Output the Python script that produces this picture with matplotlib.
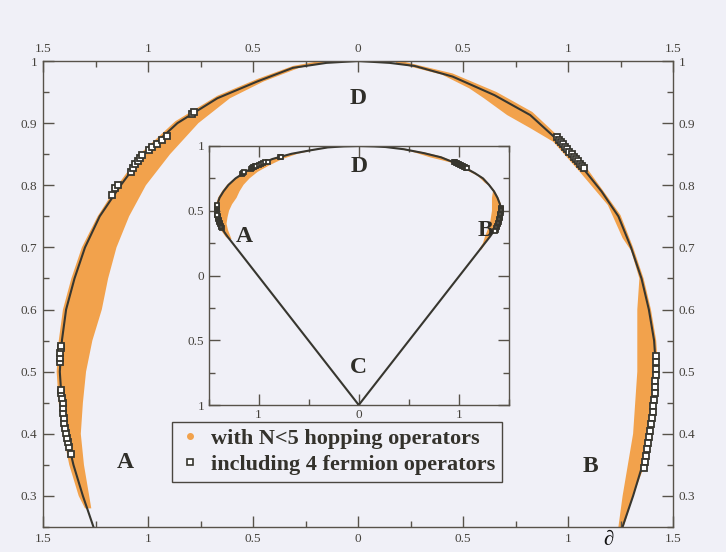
import numpy as np
import matplotlib.pyplot as plt
from matplotlib.lines import Line2D

# boundary curve, running from C up the left side, over D and back down to C
curve_x = [0.0, -1.31, -1.355, -1.39, -1.41, -1.42, -1.41, -1.39, -1.35, -1.30, -1.23,
           -1.13, -1.02, -0.86, -0.67, -0.48, -0.31, -0.15, 0.0,
           0.15, 0.27, 0.45, 0.65, 0.82, 0.94, 1.07, 1.16, 1.24, 1.30, 1.35, 1.385,
           1.41, 1.42, 1.41, 1.39, 1.355, 1.31, 0.0]
curve_y = [-1.0, 0.30, 0.35, 0.40, 0.45, 0.50, 0.55, 0.60, 0.65, 0.70, 0.75,
           0.80, 0.85, 0.90, 0.94, 0.967, 0.989, 0.997, 1.0,
           0.997, 0.992, 0.975, 0.945, 0.913, 0.876, 0.828, 0.79, 0.75, 0.70, 0.65, 0.60,
           0.55, 0.50, 0.45, 0.40, 0.35, 0.30, -1.0]

# region covered by the N<5 hopping-operator points (left and right lobes)
left_outer_x = [-0.15, -0.31, -0.48, -0.67, -0.87, -1.03, -1.145, -1.24, -1.315, -1.365,
                -1.405, -1.425, -1.435, -1.425, -1.405, -1.375, -1.33, -1.30]
left_outer_y = [1.002, 0.992, 0.971, 0.944, 0.903, 0.853, 0.80, 0.75, 0.70, 0.65,
                0.60, 0.55, 0.50, 0.45, 0.40, 0.35, 0.30, 0.28]
left_inner_x = [-1.27, -1.28, -1.305, -1.32, -1.31, -1.295, -1.265, -1.22, -1.19, -1.15,
                -1.09, -1.01, -0.895, -0.76, -0.61, -0.45, -0.28, -0.15]
left_inner_y = [0.28, 0.30, 0.35, 0.40, 0.45, 0.50, 0.55, 0.60, 0.65, 0.70,
                0.75, 0.80, 0.85, 0.90, 0.94, 0.967, 0.989, 0.998]

right_outer_x = [0.18, 0.45, 0.66, 0.83, 0.95, 1.08, 1.17, 1.25, 1.31, 1.36, 1.395,
                 1.42, 1.43, 1.42, 1.40, 1.365, 1.31, 1.265, 1.225]
right_outer_y = [1.002, 0.98, 0.95, 0.918, 0.88, 0.832, 0.79, 0.752, 0.70, 0.65, 0.60,
                 0.55, 0.50, 0.45, 0.40, 0.35, 0.30, 0.25, 0.20]
right_inner_x = [1.20, 1.24, 1.26, 1.285, 1.31, 1.32, 1.33, 1.33, 1.33, 1.34, 1.30, 1.26,
                 1.19, 1.06, 0.93, 0.82, 0.71, 0.60, 0.53, 0.40, 0.18]
right_inner_y = [0.20, 0.25, 0.30, 0.35, 0.40, 0.45, 0.50, 0.55, 0.60, 0.65, 0.695, 0.715,
                 0.768, 0.82, 0.87, 0.892, 0.913, 0.94, 0.956, 0.978, 0.997]

# points that include 4 fermion operators
ferm_x = [-1.365, -1.375, -1.38, -1.385, -1.39, -1.395, -1.398, -1.40, -1.403, -1.405,
          -1.407, -1.41, -1.412, -1.414,
          -1.42, -1.42, -1.418, -1.415, -1.413,
          -1.17, -1.155, -1.145, -1.08, -1.07, -1.06, -1.05, -1.04, -1.03,
          -0.995, -0.98, -0.956, -0.935, -0.91, -0.79, -0.78,
          0.947, 0.957, 0.967, 0.977, 0.987, 0.997, 1.007, 1.017, 1.027, 1.037,
          1.047, 1.057, 1.067, 1.077,
          1.42, 1.42, 1.418, 1.418, 1.416, 1.414, 1.412, 1.41, 1.407, 1.404,
          1.40, 1.396, 1.392, 1.388, 1.383, 1.378, 1.372, 1.366, 1.36]
ferm_y = [0.368, 0.378, 0.386, 0.394, 0.402, 0.41, 0.418, 0.426, 0.434, 0.442,
          0.45, 0.458, 0.466, 0.47,
          0.515, 0.522, 0.53, 0.538, 0.542,
          0.785, 0.795, 0.80, 0.822, 0.828, 0.834, 0.839, 0.844, 0.849,
          0.856, 0.862, 0.867, 0.873, 0.879, 0.914, 0.918,
          0.877, 0.873, 0.869, 0.866, 0.862, 0.858, 0.854, 0.850, 0.846, 0.843,
          0.839, 0.835, 0.831, 0.827,
          0.525, 0.515, 0.505, 0.495, 0.485, 0.475, 0.465, 0.455, 0.445, 0.435,
          0.425, 0.415, 0.405, 0.395, 0.385, 0.375, 0.365, 0.355, 0.345]

main_xticks = [-1.5, -1.0, -0.5, 0.0, 0.5, 1.0, 1.5]
main_xlabels = ['1.5', '1', '0.5', '0', '0.5', '1', '1.5']
main_yticks = [0.3, 0.4, 0.5, 0.6, 0.7, 0.8, 0.9, 1.0]
main_ylabels = ['0.3', '0.4', '0.5', '0.6', '0.7', '0.8', '0.9', '1']
inset_xticks = [-1.0, 0.0, 1.0]
inset_xlabels = ['1', '0', '1']
inset_yticks = [-1.0, -0.5, 0.0, 0.5, 1.0]
inset_ylabels = ['1', '0.5', '0', '0.5', '1']

bg = '#f0f0f7'
orange = '#f2a24c'
ink = '#37362f'
frame = '#57524a'
serif = ['Liberation Serif', 'DejaVu Serif']

fig = plt.figure(figsize=(7.26, 5.52), dpi=100, facecolor=bg)


def draw_data(ax, msize, mew):
    ax.fill(left_outer_x + left_inner_x, left_outer_y + left_inner_y,
            color=orange, lw=0, zorder=1)
    ax.fill(right_outer_x + right_inner_x, right_outer_y + right_inner_y,
            color=orange, lw=0, zorder=1)
    ax.plot(curve_x, curve_y, color=ink, lw=1.5, zorder=2)
    ax.plot(ferm_x, ferm_y, ls='none', marker='s', ms=msize, mfc='white',
            mec=ink, mew=mew, zorder=3)


def style_axes(ax):
    ax.set_facecolor(bg)
    for s in ax.spines.values():
        s.set_color(frame)
        s.set_linewidth(1.0)
    ax.tick_params(which='both', direction='in', top=True, right=True,
                   color=frame, width=1.0, labelcolor='#45423c')
    ax.tick_params(which='major', length=8)
    ax.tick_params(which='minor', length=4)
    for lab in ax.get_xticklabels() + ax.get_yticklabels():
        lab.set_family(serif)
        lab.set_fontsize(9.5)


# main panel
ax = fig.add_axes([43 / 726, 1 - 527 / 552, 630 / 726, 466 / 552])
draw_data(ax, 4.3, 1.3)
ax.set_xlim(-1.5, 1.5)
ax.set_ylim(0.25, 1.0)
ax.set_xticks(main_xticks)
ax.set_xticklabels(main_xlabels)
ax.set_yticks(main_yticks)
ax.set_yticklabels(main_ylabels)
ax.set_xticks(np.arange(-1.25, 1.5, 0.5), minor=True)
ax.set_yticks(np.arange(0.25, 1.0, 0.1), minor=True)
ax.tick_params(labeltop=True, labelright=True, pad=4)
style_axes(ax)

letter = dict(family=serif, fontweight='bold', fontsize=17, color='#2f2e29',
              ha='center', va='center')
ax.text(0.0, 0.94, 'D', **letter)
ax.text(-1.11, 0.354, 'A', **letter)
ax.text(1.105, 0.348, 'B', **letter)

handles = [Line2D([], [], ls='none', marker='o', ms=4, color=orange),
           Line2D([], [], ls='none', marker='s', ms=5, mfc='white', mec=ink, mew=1.2)]
leg = ax.legend(handles, ['with N<5 hopping operators', 'including 4 fermion operators'],
                loc='lower left', bbox_to_anchor=(0.205, 0.097), borderaxespad=0,
                fancybox=False, framealpha=1, facecolor=bg, edgecolor='#4a4640',
                handlelength=1.0, handletextpad=0.45, labelspacing=0.25, borderpad=0.3,
                prop=dict(family=serif, weight='bold', size=16))
leg.get_frame().set_linewidth(1.0)
for t in leg.get_texts():
    t.set_color('#34322c')

# inset: full view down to C
ins = fig.add_axes([208.5 / 726, 1 - 405 / 552, 300.5 / 726, 259 / 552])
draw_data(ins, 2.8, 1.3)
ins.set_xlim(-1.5, 1.5)
ins.set_ylim(-1.0, 1.0)
ins.set_xticks(inset_xticks)
ins.set_xticklabels(inset_xlabels)
ins.set_yticks(inset_yticks)
ins.set_yticklabels(inset_ylabels)
ins.set_xticks([-1.5, -0.5, 0.5, 1.5], minor=True)
ins.set_yticks([-0.75, -0.25, 0.25, 0.75], minor=True)
ins.tick_params(pad=3)
style_axes(ins)
ins.text(0.0, 0.84, 'D', **letter)
ins.text(-1.14, 0.30, 'A', **letter)
ins.text(1.26, 0.345, 'B', **letter)
ins.text(0.0, -0.71, 'C', **letter)

fig.text(608 / 726, 0.004, '\u2202', family=serif, fontweight='bold', fontsize=15,
         color='#111111', ha='center', va='bottom')

plt.savefig('out.png', dpi=100, facecolor=bg)
